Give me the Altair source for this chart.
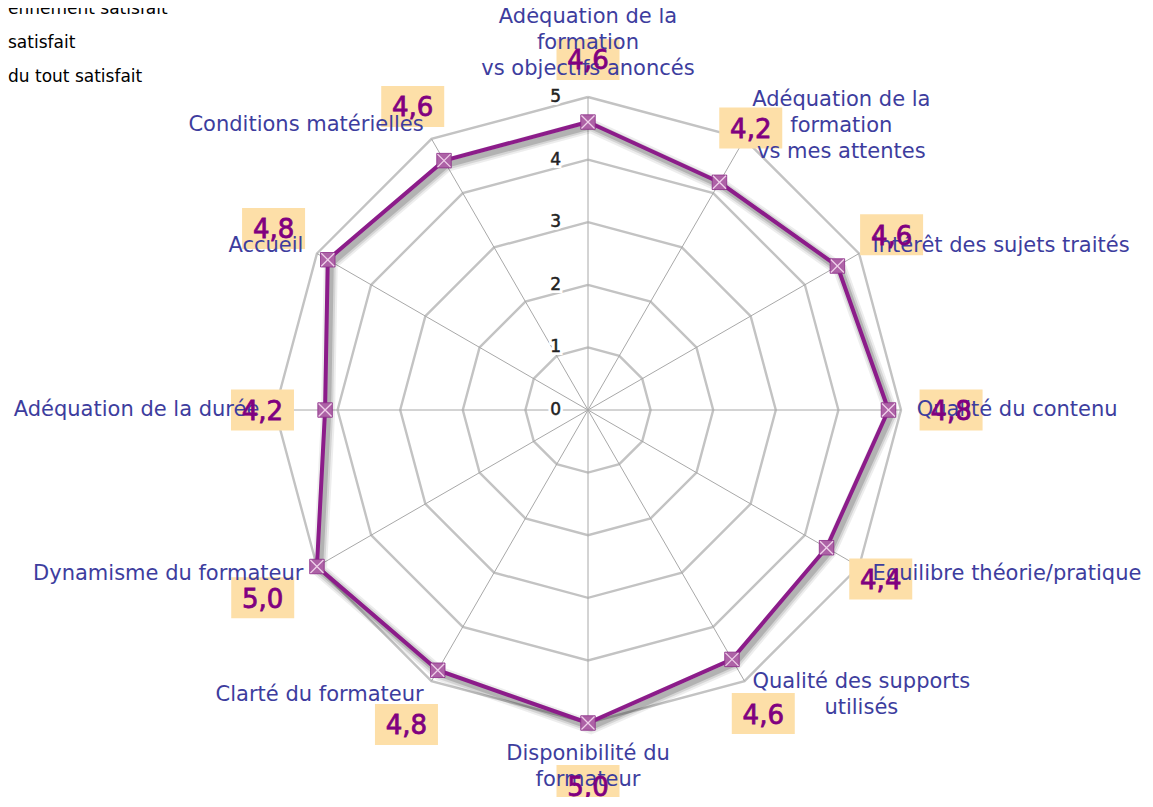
import math
import altair as alt
import pandas as pd

# ---------------- data ----------------
categories = [
    "Adéquation de la\nformation\nvs objectifs anoncés",
    "Adéquation de la\nformation\nvs mes attentes",
    "Intérêt des sujets traités",
    "Qualité du contenu",
    "Equilibre théorie/pratique",
    "Qualité des supports\nutilisés",
    "Disponibilité du\nformateur",
    "Clarté du formateur",
    "Dynamisme du formateur",
    "Adéquation de la durée",
    "Accueil",
    "Conditions matérielles",
]
values = [4.6, 4.2, 4.6, 4.8, 4.4, 4.6, 5.0, 4.8, 5.0, 4.2, 4.8, 4.6]
tick_values = [0, 1, 2, 3, 4, 5]
legend_fragments = ["ennement satisfait", "satisfait", "du tout satisfait"]

# ---------------- geometry ----------------
N = len(categories)
R_MAX = tick_values[-1]
PX = 62.6            # pixels per unit
W, H = 1135, 789
CX, CY = 580, 402    # centre of the radar in chart pixels
LABEL_R = R_MAX + 0.25
VALUE_OFF = 1.0


def polar(r, i):
    a = 2 * math.pi * i / N
    return r * math.sin(a), r * math.cos(a)


xs = alt.Scale(domain=[-CX / PX, (W - CX) / PX], nice=False, zero=False)
ys = alt.Scale(domain=[-(H - CY) / PX, CY / PX], nice=False, zero=False)


def X(f="x"):
    return alt.X(f"{f}:Q", scale=xs, axis=None)


def Y(f="y"):
    return alt.Y(f"{f}:Q", scale=ys, axis=None)


# rings
ring_rows = []
for k in tick_values[1:]:
    for j in range(N + 1):
        x, y = polar(k, j % N)
        ring_rows.append({"ring": k, "o": j, "x": x, "y": y})
rings_df = pd.DataFrame(ring_rows)

# spokes
spoke_rows = []
for i in range(N):
    x, y = polar(R_MAX, i)
    spoke_rows.append({"x": x, "y": y, "x2": 0.0, "y2": 0.0})
spokes_df = pd.DataFrame(spoke_rows)

# radial ticks
ticks_df = pd.DataFrame({"x": [0.0] * len(tick_values), "y": [float(t) for t in tick_values],
                         "t": [str(t) for t in tick_values]})

# series
ser_rows = []
for j in range(N + 1):
    i = j % N
    x, y = polar(values[i], i)
    ser_rows.append({"o": j, "x": x, "y": y,
                     "sx": x + 3 / PX, "sy": y - 4 / PX})
series_df = pd.DataFrame(ser_rows)
points_df = series_df[series_df["o"] < N]

# value labels
val_rows = []
for i, v in enumerate(values):
    x, y = polar(v + VALUE_OFF, i)
    val_rows.append({"x": x, "y": y, "lab": f"{v:.1f}".replace(".", ",")})
vals_df = pd.DataFrame(val_rows)

# category labels
cat_rows = []
for i, c in enumerate(categories):
    x, y = polar(LABEL_R, i)
    a = 2 * math.pi * i / N
    s = math.sin(a)
    if i == 0:
        g = "top"
    elif i == N // 2:
        g = "bottom"
    elif "\n" in c and math.cos(a) > 0:
        g = "ne"
    elif "\n" in c:
        g = "se"
    elif s > 0:
        g = "left"
    else:
        g = "right"
    cat_rows.append({"x": x, "y": y, "cat": c, "g": g})
cats_df = pd.DataFrame(cat_rows)

LABEL_FONT = "DejaVu Sans"
LABEL_COLOR = "#3d3d9e"
LABEL_SIZE = 21


def cat_layer(group, **kw):
    return alt.Chart(cats_df).transform_filter(alt.datum.g == group).mark_text(
        font=LABEL_FONT, fontSize=LABEL_SIZE, color=LABEL_COLOR,
        lineBreak="\n", lineHeight=26, **kw
    ).encode(x=X(), y=Y(), text="cat:N")


# ---------------- layers ----------------
rings = alt.Chart(rings_df).mark_line(color="#c3c3c3", strokeWidth=2.4).encode(
    x=X(), y=Y(), detail="ring:N", order="o:Q")

spokes = alt.Chart(spokes_df).mark_rule(color="#a8a8a8", strokeWidth=1).encode(
    x=X(), y=Y(), x2=alt.X2("x2"), y2=alt.Y2("y2"))

tick_halo = alt.Chart(ticks_df).mark_text(
    align="right", baseline="middle", dx=-27, fontSize=17, font="DejaVu Sans",
    stroke="white", strokeWidth=6, color="white").encode(x=X(), y=Y(), text="t:N")
tick_text = alt.Chart(ticks_df).mark_text(
    align="right", baseline="middle", dx=-27, fontSize=17, font="DejaVu Sans",
    color="#222222", stroke="#222222", strokeWidth=0.5).encode(
    x=X(), y=Y(), text="t:N")

shadows = [
    alt.Chart(series_df).mark_line(color="black", opacity=op, strokeWidth=sw,
                                   strokeJoin="miter").encode(
        x=X("sx"), y=Y("sy"), order="o:Q")
    for sw, op in [(14, 0.07), (10, 0.1), (6, 0.16)]
]

line = alt.Chart(series_df).mark_line(color="#8c1c8a", strokeWidth=4,
                                      strokeJoin="miter").encode(
    x=X(), y=Y(), order="o:Q")

squares = alt.Chart(points_df).mark_square(
    size=210, color="#ad62a6", opacity=1, stroke="#8c2c88", strokeWidth=0.8).encode(
    x=X(), y=Y())
crosses = alt.Chart(points_df).mark_point(
    shape="M-1,-1L1,1M1,-1L-1,1", size=170, color="#efd0ea", strokeWidth=1.3,
    opacity=1).encode(x=X(), y=Y())

boxes = alt.Chart(vals_df).mark_point(
    shape="M-1.5,-0.976H1.5V0.976H-1.5Z", size=1764, filled=True,
    color="#fddfa8", opacity=1, strokeWidth=0).encode(x=X(), y=Y())

val_text = alt.Chart(vals_df).mark_text(
    font="DejaVu Sans", fontSize=26, color="#800080", stroke="#800080",
    strokeWidth=0.8, baseline="middle", align="center", dy=2).encode(
    x=X(), y=Y(), text="lab:N")

cat_top = cat_layer("top", align="center", baseline="top", dy=-75)
cat_bottom = cat_layer("bottom", align="center", baseline="top", dy=4)
cat_ne = cat_layer("ne", align="center", baseline="top", dx=89, dy=-36)
cat_se = cat_layer("se", align="center", baseline="top", dx=109, dy=-24)
cat_left = cat_layer("left", align="left", baseline="middle")
cat_right = cat_layer("right", align="right", baseline="middle")

legend_df = pd.DataFrame({"t": ["\n".join(legend_fragments)]})
legend = alt.Chart(legend_df).mark_text(
    align="left", baseline="alphabetic", font="DejaVu Sans", fontSize=17,
    color="black", lineBreak="\n", lineHeight=34).encode(
    x=alt.value(0), y=alt.value(6), text="t:N")

chart = alt.layer(
    rings, spokes, tick_halo, tick_text, *shadows, line, squares, crosses,
    boxes, cat_top, cat_bottom, cat_ne, cat_se, cat_left, cat_right,
    val_text, legend,
).properties(
    width=W, height=H, padding=0,
    autosize=alt.AutoSizeParams(type="none"),
    background="white",
).configure_view(stroke=None)

chart.save("out.html", embed_options={"renderer": "svg", "actions": False})
